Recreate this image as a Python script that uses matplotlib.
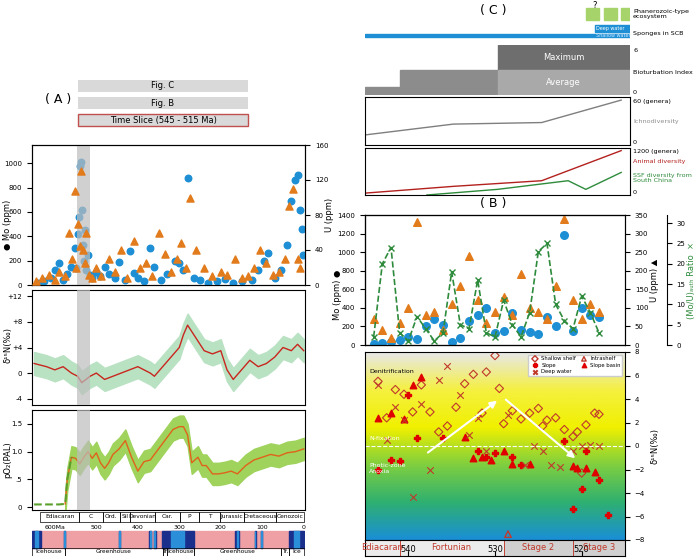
import numpy as np
import matplotlib
matplotlib.use('Agg')
import matplotlib.pyplot as plt
from matplotlib.colors import LinearSegmentedColormap

W, H = 700, 559

# ---------- panel A data ----------
mo_age = [640, 625, 610, 600, 590, 580, 570, 560, 552, 548, 545, 542, 540, 538, 535, 532, 530, 527, 524, 520,
          515, 510, 500, 490, 480, 470, 455, 445, 430, 420, 410, 400, 385, 370, 360, 345, 330, 310, 300, 290,
          280, 265, 250, 230, 210, 190, 170, 150, 125, 110, 95, 85, 70, 55, 40, 30, 20, 15, 10, 5, 3]
mo_val = [20, 30, 60, 120, 180, 40, 90, 150, 300, 140, 420, 560, 980, 1010, 620, 330, 200, 450, 120, 250,
          80, 60, 110, 70, 150, 90, 60, 190, 40, 280, 100, 60, 30, 300, 150, 40, 90, 200, 180, 120,
          880, 60, 40, 20, 30, 50, 20, 30, 40, 120, 200, 260, 60, 120, 330, 690, 860, 900, 620, 460, 250]
u_age = [645, 630, 615, 600, 590, 575, 565, 558, 552, 548, 544, 540, 536, 532, 528, 524, 518, 510, 500, 488,
         470, 455, 440, 425, 410, 395, 380, 365, 350, 335, 320, 305, 295, 285, 275, 260, 240, 220, 200, 185,
         165, 150, 135, 120, 105, 90, 75, 60, 45, 35, 25, 15, 8]
u_val = [5, 8, 12, 6, 15, 10, 60, 30, 108, 20, 70, 45, 130, 40, 25, 60, 12, 8, 20, 10,
         30, 15, 40, 8, 50, 20, 25, 10, 60, 35, 15, 30, 48, 20, 100, 40, 20, 10, 15, 12,
         30, 8, 10, 20, 40, 25, 12, 15, 30, 90, 110, 30, 20]
d15_age = [650, 620, 600, 580, 560, 545, 535, 525, 515, 500, 480, 460, 440, 420, 400, 385, 370, 360, 340, 320,
           300, 290, 280, 265, 250, 240, 220, 200, 185, 170, 150, 130, 110, 90, 70, 50, 30, 15, 0]
d15_val = [1.5, 1.0, 0.5, 1.0, 0.0, -0.5, -1.5, -1.0, -0.5, 0.0, -1.0, -0.5, 0.0, 0.5, 1.0, 0.5, 0.0, -0.5, 1.0, 2.5,
           4.0, 6.0, 7.5, 6.0, 4.5, 3.5, 3.0, 3.5, 0.5, -1.0, 0.5, 2.0, 1.0, 1.5, 2.5, 4.0, 3.5, 4.5, 3.5]
po2_age = [650, 620, 590, 575, 570, 560, 550, 540, 530, 520, 510, 500, 490, 480, 470, 460, 445, 430, 415, 400,
           385, 370, 360, 345, 330, 315, 300, 290, 280, 270, 255, 245, 235, 220, 205, 190, 175, 160, 140, 120, 100, 80, 60, 40, 20, 0]
po2_val = [0.05, 0.05, 0.05, 0.06, 0.5, 0.9, 0.88, 0.78, 0.9, 1.0, 0.88, 0.98, 0.8, 0.7, 0.8, 0.95, 1.05, 1.2, 0.9, 0.65,
           0.82, 0.85, 0.95, 1.1, 1.25, 1.4, 1.45, 1.45, 1.3, 0.8, 0.9, 0.75, 0.75, 0.6, 0.6, 0.62, 0.65, 0.6, 0.75, 0.85, 0.9, 0.95, 0.92, 0.98, 1.0, 1.05]
periods = [("Ediacaran", 635, 541), ("C", 541, 485), ("Ord.", 485, 443), ("Sil", 443, 419), ("Devonian", 419, 359),
           ("Car.", 359, 299), ("P", 299, 252), ("T", 252, 201), ("Jurassic", 201, 145), ("Cretaceous", 145, 66), ("Cenozoic", 66, 0)]
climate = [("Icehouse", 655, 575), ("Greenhouse", 575, 340), ("Tr.", 340, 330), ("Icehouse", 330, 265),
           ("Greenhouse", 265, 55), ("Tr.", 55, 35), ("Ice", 35, 0)]
cold_spans = [(655, 633), (578, 576), (445, 443), (372, 368), (362, 356), (342, 265), (165, 155), (118, 116), (103, 101), (35, 0)]

# ---------- panel B / C data ----------
b_age = [544, 543, 542, 541, 540, 539, 538, 537, 536, 535, 534, 533, 532, 531, 530, 529, 528, 527, 526, 525, 524, 523, 522, 521, 520, 519, 518]
b_mo = [10, 20, 30, 50, 90, 60, 200, 280, 220, 30, 80, 260, 320, 400, 130, 150, 350, 160, 140, 120, 300, 200, 1180, 150, 400, 320, 300]
b_u = [70, 40, 20, 60, 100, 330, 80, 90, 40, 110, 160, 240, 120, 60, 90, 130, 80, 190, 100, 90, 70, 160, 340, 120, 70, 110, 90]
b_ratio = [2, 20, 24, 3, 1, 7, 4, 1, 3, 18, 5, 4, 16, 3, 2, 11, 5, 2, 8, 23, 25, 10, 6, 4, 12, 8, 3]
n_shallow_age = [543.5, 542.5, 541.5, 540.5, 539.5, 538.5, 537.5, 536.5, 535.5, 534.5, 533.5, 532.5, 531.5, 531, 530, 529.5, 529, 528, 527, 526, 525, 524.5, 524, 523, 522, 521, 520.5, 520, 519.5, 518.5, 518]
n_shallow = [5.5, 2.4, 4.8, 4.4, 2.9, 5.2, 2.9, 1.2, 1.7, 3.3, 5.3, 6.1, 2.8, 6.3, 7.7, 4.9, 1.9, 3.0, 2.3, 2.8, 3.2, 1.7, 2.2, 2.4, 1.4, 0.8, 1.2, -2.3, 1.8, 2.8, 2.7]
n_slope_age = [543.5, 542, 541, 540, 539, 536, 532, 531, 530, 528, 527, 522, 521, 520, 519.5, 518, 517]
n_slope = [-2.0, -1.2, -1.3, 4.3, 0.7, 0.7, -0.4, -0.9, -0.6, -0.9, -1.6, 0.4, -5.4, -3.7, -0.4, -2.9, -5.9]
n_basin_age = [543.5, 542, 540.5, 539.5, 538.5, 533.5, 532.5, 531.5, 530.5, 529, 528, 526, 521, 520.5, 519.5, 518.5]
n_basin = [2.4, 2.8, 2.3, 5.2, 5.9, 0.8, -1.0, -0.9, -1.2, -0.4, -1.5, -1.5, -1.7, -1.9, -1.9, -2.2]
n_deep_age = [543.5, 542.5, 541.5, 540.5, 539.5, 538.5, 537.5, 536.5, 535.5, 534, 533, 532, 531, 528.5, 526.5, 525.5, 524.5, 523.5, 522.5, 521, 520, 519, 518]
n_deep = [5.2, 0.5, 3.3, 2.2, -4.3, 3.6, -2.0, 5.6, 6.8, 4.3, 0.9, 2.4, -0.4, 2.6, -1.6, 0.0, -0.4, -1.6, -1.8, -0.4, 0.0, 0.1, 0.0]
stages = [("Ediacaran", 545, 541), ("Fortunian", 541, 529), ("Stage 2", 529, 521), ("Stage 3", 521, 515)]
ichno_age = [545, 535, 525, 516]
ichno = [13, 27, 29, 58]
animal_age = [545, 535, 525, 516]
animal = [50, 230, 380, 1180]
ssf_age = [538, 530, 522, 520, 516]
ssf = [0, 150, 380, 150, 600]

fig = plt.figure(figsize=(7, 5.59), dpi=100)
fs = 6
fs2 = 5


def ax_px(x0, y0, x1, y1):
    return fig.add_axes([x0 / W, 1 - y1 / H, (x1 - x0) / W, (y1 - y0) / H])


blue, orange = "#1e8fd5", "#e27b1c"
xl = (655, -3)

# ----- A: Mo / U -----
a1 = ax_px(32, 145, 305, 285)
a1.scatter(mo_age, mo_val, s=22, color=blue, zorder=3)
a1.set_xlim(xl); a1.set_ylim(0, 1150)
a1.set_xticks([])
a1.tick_params(labelsize=fs2)
a1.set_yticks([0, 200, 400, 600, 800, 1000])
a1u = a1.twinx()
a1u.scatter(u_age, u_val, marker="^", s=26, color=orange, zorder=3)
a1u.set_ylim(0, 160); a1u.tick_params(labelsize=fs2)
a1u.set_yticks([0, 40, 80, 120, 160])
fig.text(3 / W, 1 - 225 / H, "● Mo (ppm)", rotation=90, fontsize=fs, va="center")
fig.text(325 / W, 1 - 215 / H, "U (ppm)", rotation=90, fontsize=fs, va="center")

# ----- A: d15N -----
a2 = ax_px(32, 290, 305, 405)
d = np.array(d15_val)
a2.fill_between(d15_age, d - 1.8, d + 1.8, color="#b9e2c3")
a2.plot(d15_age, d, color="#c8261e", lw=1)
a2.set_xlim(xl); a2.set_ylim(-5, 13); a2.set_xticks([])
a2.set_yticks([12, 8, 4, 0, -4]); a2.set_yticklabels(["+12", "+8", "+4", "0", "-4"])
a2.tick_params(labelsize=fs2)
fig.text(3 / W, 1 - 345 / H, "δ¹⁵N(‰)", rotation=90, fontsize=fs, va="center")

# ----- A: pO2 -----
a3 = ax_px(32, 410, 305, 510)
p = np.array(po2_val)
ag = np.array(po2_age)
m = ag <= 575
a3.fill_between(ag[m], p[m] - 0.2, p[m] + 0.2, color="#9fd35c")
a3.plot(ag[m], p[m], color="#e0631a", lw=1)
a3.plot(ag[ag >= 560], p[ag >= 560], color="#5aa02c", lw=1.5, ls="--")
a3.set_xlim(xl); a3.set_ylim(-0.05, 1.75); a3.set_xticks([])
a3.set_yticks([0, 0.5, 1.0, 1.5]); a3.set_yticklabels(["0", ".5", "1.0", "1.5"])
a3.tick_params(labelsize=fs2)
fig.text(3 / W, 1 - 460 / H, "pO₂(PAL)", rotation=90, fontsize=fs, va="center")

# ----- A: time scale -----
a4 = ax_px(32, 512, 305, 556)
a4.set_xlim(xl); a4.set_ylim(0, 4)
a4.axis("off")
for name, s, e in periods:
    a4.add_patch(plt.Rectangle((e, 3.1), s - e, 0.9, fill=False, lw=0.5))
    a4.text((s + e) / 2, 3.55, name, fontsize=4.2, ha="center", va="center")
for t in [600, 500, 400, 300, 200, 100, 0]:
    a4.text(t, 2.6, "600Ma" if t == 600 else str(t), fontsize=4.5, ha="center", va="center")
a4.add_patch(plt.Rectangle((0, 0.75), 655, 1.5, color="#eea0a5"))
for s, e in cold_spans:
    a4.add_patch(plt.Rectangle((e, 0.75), s - e, 1.5, color="#1a2f8c"))
    a4.add_patch(plt.Rectangle((e + (s - e) * 0.3, 0.75), (s - e) * 0.4, 1.5, color="#2a8fd8"))
for name, s, e in climate:
    a4.add_patch(plt.Rectangle((e, 0), s - e, 0.75, fill=False, lw=0.5))
    a4.text((s + e) / 2, 0.37, name, fontsize=4.2, ha="center", va="center")

# gray time slice band and labels
for a in (a1, a2, a3):
    a.axvspan(547, 515, color="#bdbdbd", alpha=0.7, zorder=5, lw=0)
fig.text(45 / W, 1 - 103 / H, "( A )", fontsize=9)
for i, lab in enumerate(["Fig. C", "Fig. B", "Time Slice (545 - 515 Ma)"]):
    y = 80 + i * 17
    fig.patches.append(plt.Rectangle((78 / W, 1 - (y + 12) / H), 170 / W, 12 / H, transform=fig.transFigure,
                                     facecolor="#d9d9d9", edgecolor="#c0504d" if i == 2 else "none"))
    fig.text(163 / W, 1 - (y + 6) / H, lab, fontsize=fs, ha="center", va="center")

# ----- C panels -----
xr = (545, 515)
xc = 630
fig.text(480 / W, 1 - 14 / H, "( C )", fontsize=9)
c1 = ax_px(365, 2, xc, 45)
c1.set_xlim(xr); c1.set_ylim(0, 4.3); c1.axis("off")
for s in [520, 518, 516]:
    c1.add_patch(plt.Rectangle((s - 1.5, 2.5), 1.5, 1.2, color="#a6d46a"))
c1.add_patch(plt.Rectangle((515, 1.3), 4, 0.7, color="#1e8fd5"))
c1.add_patch(plt.Rectangle((515, 0.8), 30, 0.35, color="#1e8fd5"))
c1.text(518.8, 1.65, "Deep water", fontsize=3.5, color="w", va="center")
c1.text(518.8, 0.98, "Shallow water", fontsize=3.5, color="#cce8ff", va="center")
c1.text(519, 3.75, "?", fontsize=6, ha="center")
fig.text(633 / W, 1 - 14 / H, "Phanerozoic-type\necosystem", fontsize=4.6, va="center")
fig.text(633 / W, 1 - 34 / H, "Sponges in SCB", fontsize=4.6, va="center")

c2 = ax_px(365, 45, xc, 95)
c2.set_xlim(xr); c2.set_ylim(0, 6)
c2.add_patch(plt.Rectangle((530, 0), 15, 1, color="#8c8c8c"))
c2.add_patch(plt.Rectangle((530, 1), 11, 2, color="#8c8c8c"))
c2.add_patch(plt.Rectangle((515, 3), 15, 3, color="#6e6e6e"))
c2.add_patch(plt.Rectangle((515, 0), 15, 3, color="#a9a9a9"))
c2.text(522.5, 4.5, "Maximum", fontsize=fs, color="w", ha="center", va="center")
c2.text(522.5, 1.5, "Average", fontsize=fs, color="w", ha="center", va="center")
c2.axis("off")
fig.text(633 / W, 1 - 50 / H, "6", fontsize=4.6, va="center")
fig.text(633 / W, 1 - 72 / H, "Bioturbation Index", fontsize=4.6, va="center")
fig.text(633 / W, 1 - 92 / H, "0", fontsize=4.6, va="center")

c3 = ax_px(365, 97, xc, 145)
c3.plot(ichno_age, ichno, color="#7f7f7f", lw=1)
c3.set_xlim(xr); c3.set_ylim(0, 62); c3.set_xticks([]); c3.set_yticks([])
fig.text(633 / W, 1 - 102 / H, "60 (genera)", fontsize=4.6, va="center")
fig.text(633 / W, 1 - 122 / H, "Ichnodiversity", fontsize=4.6, color="#8c8c8c", va="center")
fig.text(633 / W, 1 - 142 / H, "0", fontsize=4.6, va="center")

c4 = ax_px(365, 148, xc, 195)
c4.plot(animal_age, animal, color="#b3211e", lw=1)
c4.plot(ssf_age, ssf, color="#2e8b3c", lw=1)
c4.set_xlim(xr); c4.set_ylim(0, 1250); c4.set_xticks([]); c4.set_yticks([])
fig.text(633 / W, 1 - 152 / H, "1200 (genera)", fontsize=4.6, va="center")
fig.text(633 / W, 1 - 161 / H, "Animal diversity", fontsize=4.6, color="#b3211e", va="center")
fig.text(633 / W, 1 - 178 / H, "SSF diversity from\nSouth China", fontsize=4.6, color="#2e8b3c", va="center")
fig.text(633 / W, 1 - 193 / H, "0", fontsize=4.6, va="center")

# ----- B scatter -----
fig.text(480 / W, 1 - 207 / H, "( B )", fontsize=9)
b1 = ax_px(365, 215, 625, 345)
b1.set_xlim(xr); b1.set_ylim(0, 1400); b1.set_xticks([])
b1.set_yticks(range(0, 1401, 200)); b1.tick_params(labelsize=fs2)
b1.scatter(b_age, b_mo, s=30, color=blue, zorder=3)
fig.text(333 / W, 1 - 295 / H, "Mo (ppm) ●", rotation=90, fontsize=fs, va="center")
b1u = b1.twinx()
b1u.scatter(b_age, b_u, marker="^", s=30, color=orange)
b1u.set_ylim(0, 350); b1u.tick_params(labelsize=fs2)
b1u.set_yticks(range(0, 351, 50))
b1u.set_ylabel("U (ppm) ▲", fontsize=fs, labelpad=1)
b1r = b1.twinx()
b1r.spines["right"].set_position(("outward", 30))
b1r.plot(b_age, b_ratio, color="#2e8b3c", ls="--", lw=1.2, marker="x", ms=5)
b1r.set_ylim(0, 32); b1r.set_yticks(range(0, 31, 5)); b1r.tick_params(labelsize=fs2)
b1r.set_ylabel("(Mo/U)ₐᵤₜₕ Ratio  ×", fontsize=fs, color="#2e8b3c", labelpad=1)

# ----- B d15N -----
b2 = ax_px(365, 352, 625, 540)
cmap = LinearSegmentedColormap.from_list("g", ["#1a8fd6", "#2fb070", "#7fcf3f", "#f0f000", "#f5f040", "#e8e8e8"])
b2.imshow(np.linspace(0, 1, 200).reshape(-1, 1), cmap=cmap, origin="lower", aspect="auto", extent=(545, 515, -8, 8))
b2.set_xlim(xr); b2.set_ylim(-8, 8)
b2.scatter(n_shallow_age, n_shallow, marker="D", s=18, facecolor="none", edgecolor="#c0392b", lw=0.8)
b2.scatter(n_slope_age, n_slope, marker="P", s=22, color="#e00000")
b2.scatter(n_basin_age, n_basin, marker="^", s=22, color="#e00000")
b2.scatter(n_deep_age, n_deep, marker="x", s=22, color="#c0392b", lw=0.8)
b2.scatter([528.5], [-7.5], marker="^", s=22, facecolor="none", edgecolor="#c0392b")
b2.axhline(0, color="w", ls="--", lw=0.8)
b2.annotate("", xy=(529.5, 4.0), xytext=(538, -0.7), arrowprops=dict(arrowstyle="-|>", color="w", lw=1.5))
b2.annotate("", xy=(520.5, -1.2), xytext=(529, 4.1), arrowprops=dict(arrowstyle="-|>", color="w", lw=1.5))
b2.text(544.5, 6.2, "Denitrification", fontsize=4.5)
b2.text(544.5, 0.5, "N-fixation", fontsize=4.5, color="w")
b2.text(544.5, -2.3, "Photic-zone\nAnoxia", fontsize=4.5, color="w")
b2.yaxis.tick_right(); b2.yaxis.set_label_position("right")
b2.set_yticks(range(-8, 9, 2)); b2.tick_params(labelsize=fs2)
b2.set_ylabel("δ¹⁵N(‰)", fontsize=fs)
b2.set_xticks([])
lg = [b2.scatter([], [], marker="D", s=10, facecolor="none", edgecolor="#c0392b", label="Shallow shelf"),
      b2.scatter([], [], marker="P", s=10, color="#e00000", label="Slope"),
      b2.scatter([], [], marker="x", s=10, color="#c0392b", label="Deep water"),
      b2.scatter([], [], marker="^", s=10, facecolor="none", edgecolor="#c0392b", label="Intrashelf"),
      b2.scatter([], [], marker="^", s=10, color="#e00000", label="Slope basin")]
b2.legend(handles=lg, ncol=2, fontsize=3.8, loc="upper right", framealpha=1, fancybox=False,
          handletextpad=0.2, columnspacing=0.5, borderpad=0.3, labelspacing=0.3)

b3 = ax_px(365, 540, 625, 556)
b3.set_xlim(xr); b3.set_ylim(0, 1)
for name, s, e in stages:
    b3.add_patch(plt.Rectangle((e, 0), s - e, 1, facecolor="#ececec" if name in ("Ediacaran", "Fortunian") else "#d0d0d0",
                               edgecolor="#c0392b", lw=0.6))
    b3.text((s + e) / 2, 0.5, name, fontsize=fs, color="#c0392b", ha="center", va="center")
b3.set_yticks([]); b3.set_xticks([540, 530, 520]); b3.tick_params(labelsize=fs, pad=-8, direction="in")

fig.savefig("out.png", dpi=100)
